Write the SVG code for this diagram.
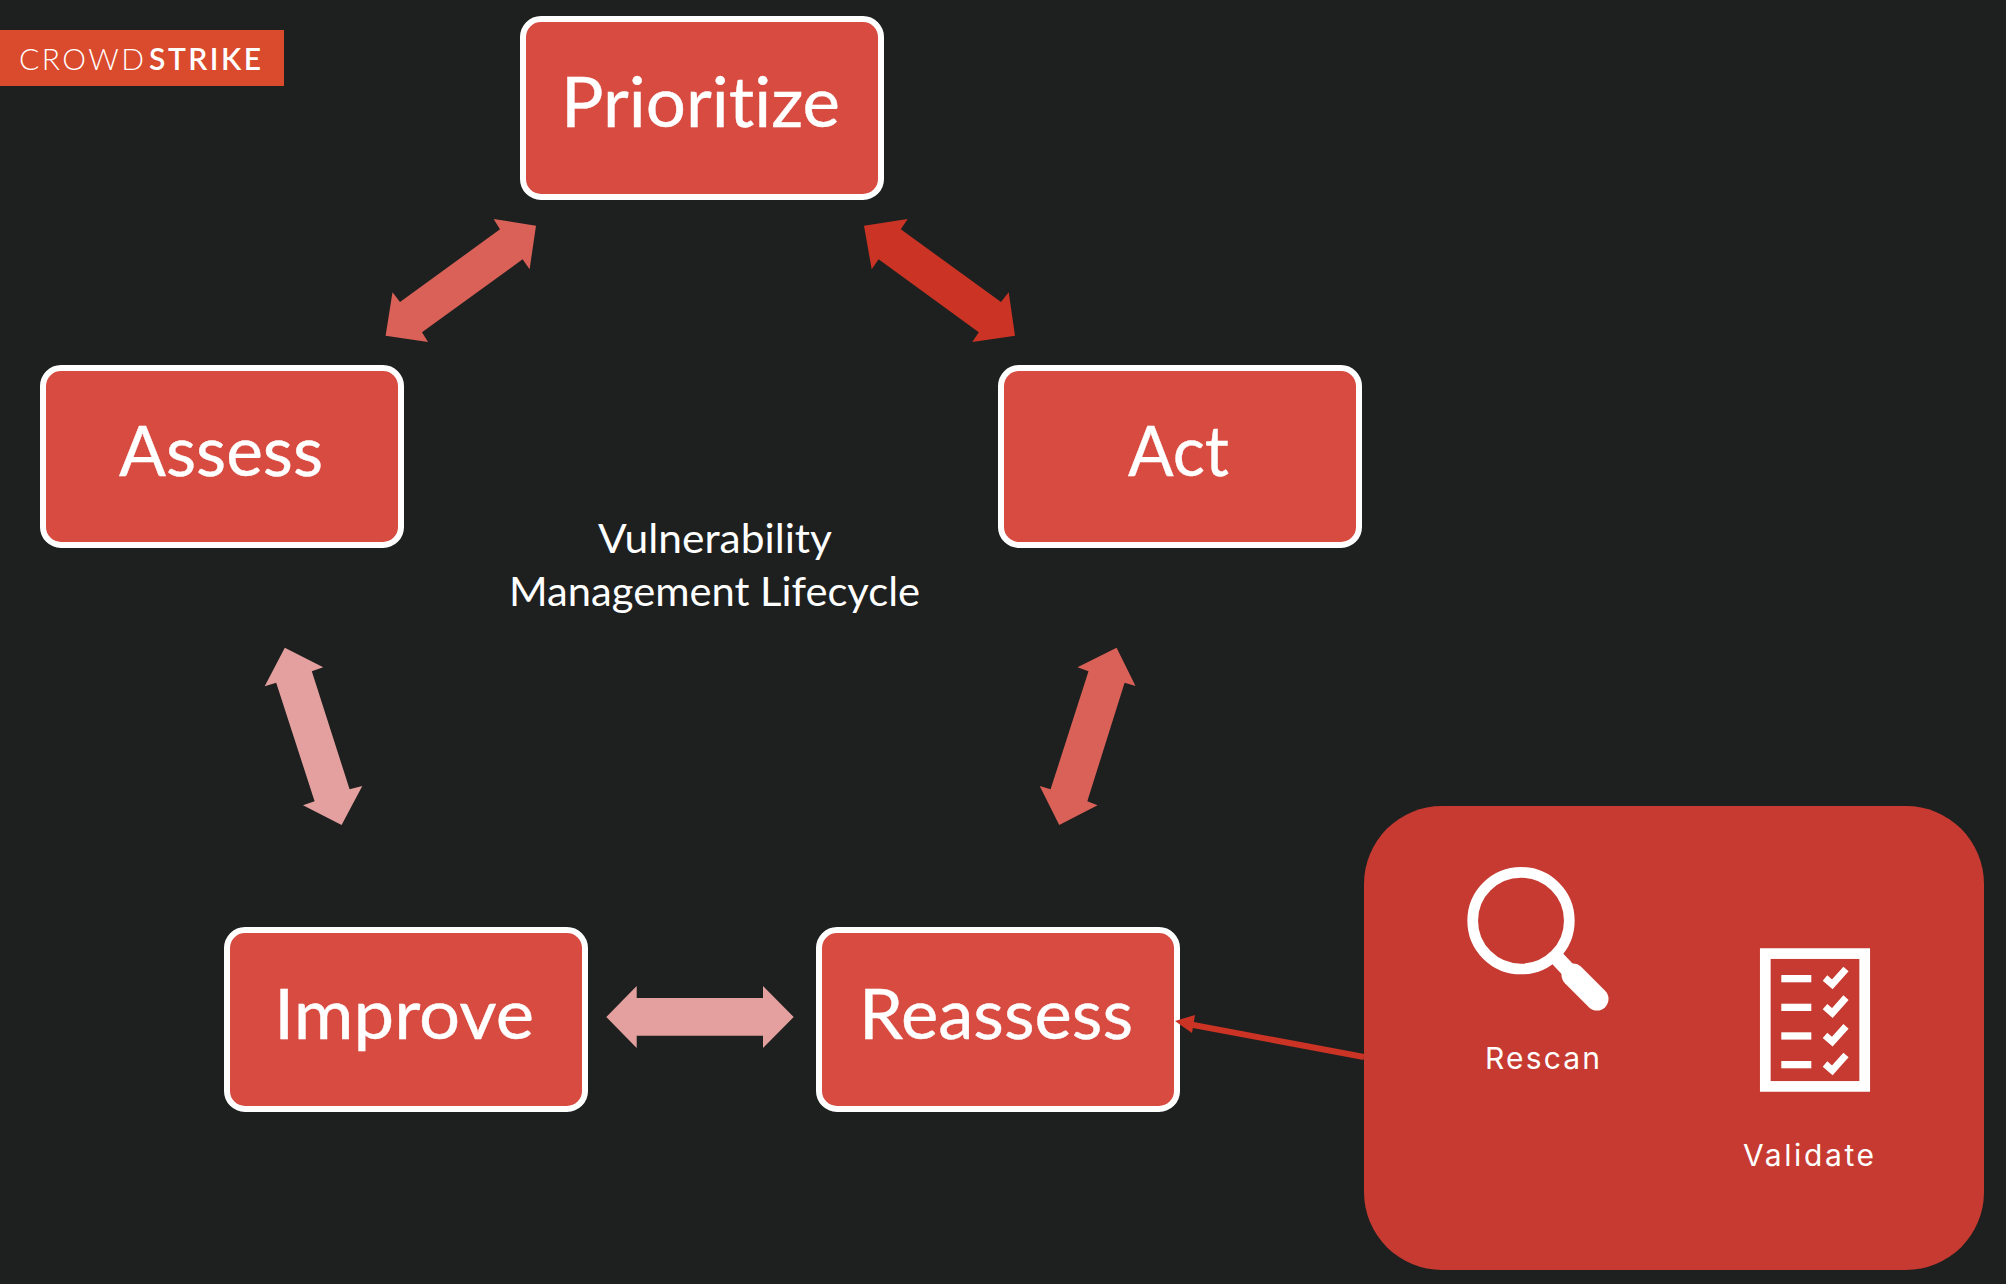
<svg xmlns="http://www.w3.org/2000/svg" width="2006" height="1284" viewBox="0 0 2006 1284">
<style>
.node{fill:#d74b41;stroke:#fff;stroke-width:6}
text{font-variant-ligatures:none;fill:#fff}
.lbl{font-family:"Lato","Liberation Sans",sans-serif;font-size:69px;stroke:#fff;stroke-width:.4}
.cap{font-family:"Lato","Liberation Sans",sans-serif;font-size:41px}
.small{font-family:"Inter","Liberation Sans",sans-serif;font-size:30px}
.logo{font-family:"Lato","Liberation Sans",sans-serif;font-size:30px}
.a1{fill:#da6158}.a2{fill:#cb3425}.a3{fill:#e4a09e}
.ic{fill:none;stroke:#fff}
</style>
<rect width="2006" height="1284" fill="#1e201f"/>
<g id="logo">
<rect x="0" y="30" width="284" height="56" fill="#da4a2c"/>
<text class="logo" x="19" y="70" textLength="125" lengthAdjust="spacing" font-weight="300">CROWD</text>
<text class="logo" x="149" y="70" textLength="112" lengthAdjust="spacing" font-weight="600">STRIKE</text>
</g>
<g id="prioritize"><rect class="node" x="523" y="19" width="358" height="178" rx="18"/><text class="lbl" x="561" y="127" textLength="279" lengthAdjust="spacingAndGlyphs">Prioritize</text></g>
<g id="assess"><rect class="node" x="43" y="368" width="358" height="177" rx="18"/><text class="lbl" x="119" y="476" textLength="204" lengthAdjust="spacingAndGlyphs">Assess</text></g>
<g id="act"><rect class="node" x="1001" y="368" width="358" height="177" rx="18"/><text class="lbl" x="1128" y="476" textLength="101" lengthAdjust="spacingAndGlyphs">Act</text></g>
<g id="improve"><rect class="node" x="227" y="930" width="358" height="179" rx="18"/><text class="lbl" x="274" y="1039" textLength="260" lengthAdjust="spacingAndGlyphs">Improve</text></g>
<g id="reassess"><rect class="node" x="819" y="930" width="358" height="179" rx="18"/><text class="lbl" x="859" y="1039" textLength="274" lengthAdjust="spacingAndGlyphs">Reassess</text></g>
<g id="title">
<text class="cap" x="598" y="553" textLength="234" lengthAdjust="spacingAndGlyphs">Vulnerability</text>
<text class="cap" x="509" y="606" textLength="411" lengthAdjust="spacingAndGlyphs">Management Lifecycle</text>
</g>
<g id="panel">
<rect x="1364" y="806" width="620" height="464" rx="78" fill="#c63a31"/>
<g id="rescan">
<circle class="ic" cx="1521" cy="920.7" r="48.3" stroke-width="10.7"/>
<line class="ic" x1="1556" y1="957" x2="1572" y2="974" stroke-width="15"/>
<line class="ic" x1="1573" y1="975" x2="1597" y2="999" stroke-width="23" stroke-linecap="round"/>
<text class="small" x="1485" y="1069" textLength="115" lengthAdjust="spacing">Rescan</text>
</g>
<g id="validate">
<rect class="ic" x="1765.3" y="953.6" width="99.4" height="132.8" stroke-width="10.7"/>
<g fill="#fff">
<rect x="1781.3" y="975" width="30" height="7.3"/><rect x="1781.3" y="1003.7" width="30" height="7.3"/><rect x="1781.3" y="1032.3" width="30" height="7.3"/><rect x="1781.3" y="1061" width="30" height="7.3"/>
</g>
<g class="ic" stroke-width="7">
<polyline points="1825,978 1832.3,984.3 1846,969"/><polyline points="1825,1006.7 1832.3,1013 1846,997.7"/><polyline points="1825,1035.3 1832.3,1041.6 1846,1026.3"/><polyline points="1825,1064 1832.3,1070.3 1846,1055"/>
</g>
<text class="small" x="1743" y="1166" textLength="131" lengthAdjust="spacing">Validate</text>
</g>
</g>
<g id="connectors">
<polygon class="a1" points="536,225.7 493.6,219 500,229.3 400,302 392.5,292.3 385.6,335.7 428,342 422,332.3 522.6,259.3 529.6,269.3"/>
<polygon class="a2" points="864,225.7 907.7,219 900.8,229.3 1001,302 1008.7,292.3 1015,335.7 972.3,342 978.8,332.3 878.6,259.3 871.7,269.3"/>
<polygon class="a3" points="284.8,647.7 323.2,667.3 311.8,671.3 349.6,789.3 362.3,786 341.6,825 303,805.3 314.6,801.3 276.2,682.7 264.7,686.3"/>
<polygon class="a1" points="1116.6,647.7 1135.5,686 1124.6,682.7 1087.3,801.3 1097.6,805.3 1059.2,825 1039.7,786 1050.6,789.3 1088.5,671.3 1077.5,667.3"/>
<polygon class="a3" points="606.3,1017 636.7,986 636.7,998 763,998 763,986 793.7,1017 763,1048 763,1035.7 636.7,1035.7 636.7,1048"/>
<line x1="1364" y1="1057" x2="1188" y2="1024" stroke="#cb3425" stroke-width="6"/>
<polygon points="1175,1021 1195,1015 1192,1033" fill="#cb3425"/>
</g>
</svg>
